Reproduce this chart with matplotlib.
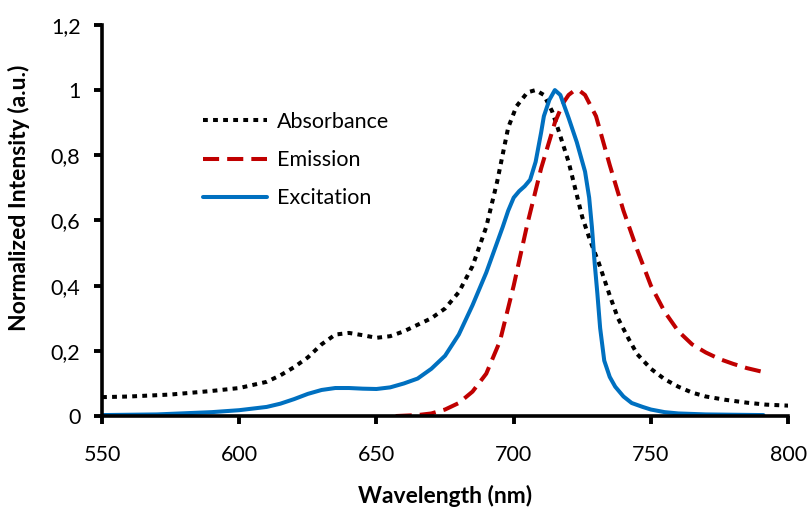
import numpy as np
import matplotlib
matplotlib.use("Agg")
import matplotlib.pyplot as plt
from matplotlib.ticker import FuncFormatter

plt.rcParams['font.family'] = ['Lato', 'DejaVu Sans']

# valores
abs_x = [550, 560, 575, 590, 600, 610, 615, 620, 625, 630, 635, 640, 645, 650, 655, 660, 665,
         670, 675, 680, 685, 690, 694, 698, 701, 705, 708, 711, 714, 716, 720, 725, 728, 731,
         735, 738, 742, 745, 750, 755, 760, 765, 770, 777, 785, 792, 800]
abs_y = [0.058, 0.06, 0.066, 0.077, 0.086, 0.105, 0.125, 0.15, 0.18, 0.22, 0.25, 0.255, 0.248,
         0.24, 0.245, 0.26, 0.28, 0.3, 0.33, 0.38, 0.46, 0.58, 0.72, 0.885, 0.95, 0.993, 1.0,
         0.985, 0.935, 0.885, 0.78, 0.61, 0.535, 0.47, 0.37, 0.3, 0.235, 0.19, 0.145, 0.113,
         0.09, 0.072, 0.06, 0.05, 0.041, 0.035, 0.032]

em_x = [657, 665, 670, 675, 680, 685, 690, 695, 700, 705, 710, 715, 718, 720, 722, 724, 726,
        730, 735, 740, 745, 750, 755, 760, 765, 770, 775, 780, 785, 791]
em_y = [0.0, 0.003, 0.008, 0.02, 0.04, 0.075, 0.13, 0.23, 0.4, 0.59, 0.76, 0.9, 0.96, 0.985,
        0.998, 0.998, 0.985, 0.92, 0.77, 0.63, 0.51, 0.4, 0.32, 0.26, 0.22, 0.195, 0.175, 0.16,
        0.147, 0.135]

ex_x = [550, 570, 590, 600, 610, 615, 620, 625, 630, 635, 640, 645, 650, 655, 660, 665, 670,
        675, 680, 685, 690, 693, 696, 698, 700, 702, 704, 706, 708, 710, 711, 713, 715, 717,
        720, 723, 726, 727.5, 728.5, 729.5, 730.5, 731.5, 733, 735, 737, 740, 743, 747, 750,
        755, 760, 770, 780, 791]
ex_y = [0.003, 0.005, 0.012, 0.018, 0.028, 0.038, 0.052, 0.068, 0.08, 0.086, 0.086, 0.084, 0.083,
        0.088, 0.1, 0.115, 0.145, 0.185, 0.25, 0.34, 0.44, 0.51, 0.58, 0.63, 0.67, 0.69, 0.705,
        0.725, 0.78, 0.87, 0.92, 0.97, 1.0, 0.985, 0.915, 0.84, 0.75, 0.67, 0.58, 0.47, 0.375,
        0.27, 0.17, 0.12, 0.09, 0.06, 0.04, 0.028, 0.02, 0.012, 0.008, 0.005, 0.004, 0.003]

fig = plt.figure(figsize=(8.11, 5.08), dpi=100)
ax = fig.add_axes([0.1258, 0.181, 0.846, 0.770])

ax.plot(abs_x, abs_y, color='black', lw=2.9, linestyle=(0, (1.2, 1.3)), label='Absorbance')
ax.plot(em_x, em_y, color='#c00000', lw=2.9, linestyle=(0, (4, 2)), label='Emission')
ax.plot(ex_x, ex_y, color='#0070c0', lw=2.9, label='Excitation', solid_capstyle='round')

ax.set_xlim(550, 800)
ax.set_ylim(0, 1.2)
ax.set_xticks(np.arange(550, 801, 50))
ax.set_yticks(np.arange(0, 1.21, 0.2))
ax.yaxis.set_major_formatter(FuncFormatter(lambda v, p: ('%g' % round(v, 1)).replace('.', ',')))

for s in ['top', 'right']:
    ax.spines[s].set_visible(False)
for s in ['left', 'bottom']:
    ax.spines[s].set_linewidth(2.6)
ax.tick_params(direction='out', length=5.5, width=2.8, labelsize=15.5)
ax.tick_params(axis='x', pad=15)
ax.tick_params(axis='y', pad=10)

ax.set_xlabel('Wavelength (nm)', fontsize=16.5, fontweight='bold')
ax.xaxis.set_label_coords(0.5, -0.175)
ax.set_ylabel('Normalized Intensity (a.u.)', fontsize=16.5, fontweight='bold')
ax.yaxis.set_label_coords(-0.105, 0.557)

ax.legend(loc='upper left', bbox_to_anchor=(0.226, 0.818), bbox_transform=fig.transFigure,
          frameon=False, fontsize=15.5, handlelength=3.0, labelspacing=0.85, handletextpad=0.45)

fig.savefig('out.png', dpi=100)
